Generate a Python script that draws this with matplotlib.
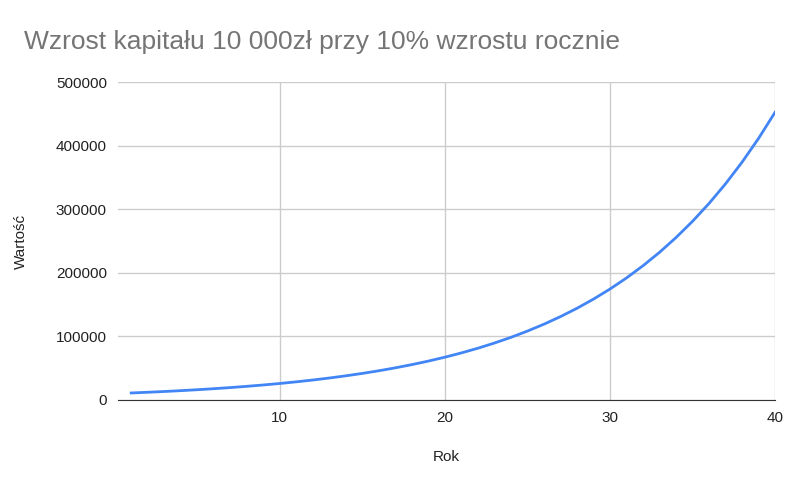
import matplotlib
matplotlib.use("Agg")
import matplotlib.pyplot as plt

years = list(range(1, 41))
values = [11000, 12100, 13310, 14641, 16105, 17716, 19487, 21436, 23579, 25937,
          28531, 31384, 34523, 37975, 41772, 45950, 50545, 55599, 61159, 67275,
          74002, 81403, 89543, 98497, 108347, 119182, 131100, 144210, 158631, 174494,
          191943, 211138, 232252, 255477, 281024, 309127, 340039, 374043, 411448, 452593]
xticks = [10, 20, 30, 40]
yticks = [0, 100000, 200000, 300000, 400000, 500000]

plt.rcParams['font.family'] = ['Liberation Sans', 'DejaVu Sans']
fig = plt.figure(figsize=(8, 4.95), dpi=100)
ax = fig.add_axes([0.1475, 0.192, 0.8213, 0.642])
ax.plot(years, values, color='#4285f4', lw=2)
ax.set_xlim(0.2, 40)
ax.set_ylim(0, 500000)
ax.set_xticks(xticks)
ax.set_yticks(yticks)
ax.set_yticklabels([str(v) for v in yticks])
ax.grid(True, color='#cccccc', lw=1)
ax.set_axisbelow(True)
for s in ['top', 'right', 'left']:
    ax.spines[s].set_visible(False)
ax.spines['bottom'].set_color('#333333')
ax.tick_params(length=0, labelsize=11, colors='#222222', pad=8)
ax.set_xlabel('Rok', fontsize=11, color='#222222', labelpad=18)
ax.set_ylabel('Wartość', fontsize=11, color='#222222', labelpad=20)
fig.text(0.03, 0.915, 'Wzrost kapitału 10 000zł przy 10% wzrostu rocznie',
         fontsize=19, color='#757575', va='center')
fig.savefig('out.png', dpi=100)
